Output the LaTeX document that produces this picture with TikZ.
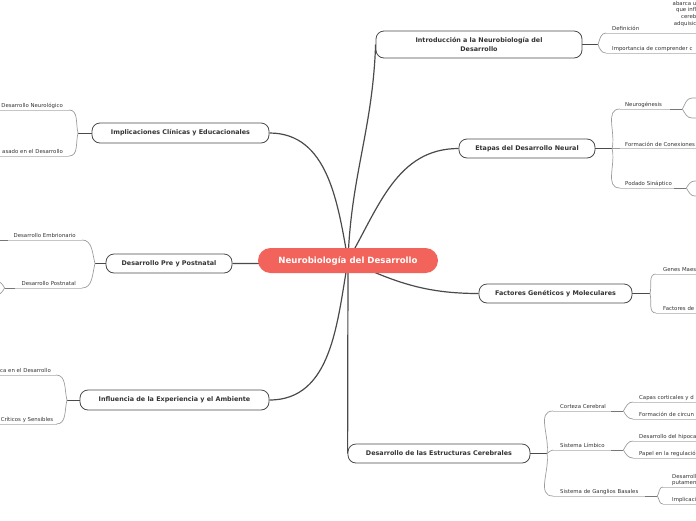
\documentclass[tikz,border=0pt]{standalone}
\usepackage{fontspec}
\setmainfont{DejaVu Sans}
\usepackage{tikz}
\usetikzlibrary{positioning,backgrounds}

\definecolor{rootred}{HTML}{F2635B}
\definecolor{inkgray}{HTML}{333333}
\definecolor{branchgray}{HTML}{4A4A4A}
\definecolor{twiggray}{HTML}{9C9C9C}
\definecolor{rulegray}{HTML}{C6C6C6}

\tikzset{
  root/.style={rounded corners=12.5pt,fill=rootred,text=white,inner sep=0pt,
    minimum width=180pt,minimum height=25pt,font=\fontsize{8.6}{10}\selectfont\bfseries},
  topic/.style={draw=branchgray,line width=.8pt,rounded corners=8pt,fill=white,text=inkgray,
    inner sep=0pt,minimum height=19pt,align=center,font=\fontsize{6.4}{9.6}\selectfont\bfseries},
  leaf/.style={text=inkgray,inner ysep=2.2pt,text depth=0pt,font=\fontsize{5.4}{6.6}\selectfont},
  leafR/.style={leaf,anchor=south west,align=left,inner xsep=6pt},
  leafL/.style={leaf,anchor=south east,align=right,inner xsep=6pt},
  branch/.style={draw=branchgray,line width=1.2pt},
  subbranch/.style={draw=branchgray,line width=.9pt},
  twig/.style={draw=twiggray,line width=.7pt},
  twigdark/.style={draw=branchgray!75,line width=.7pt},
  rule/.style={draw=rulegray,line width=.6pt}
}

\begin{document}
\begin{tikzpicture}[x=1pt,y=1pt]
  \useasboundingbox (0,0) rectangle (696,-520);

  % centre and main topics
  \node[root] (root) at (348,-260.5) {Neurobiología del Desarrollo};
  \node[topic,minimum width=206pt,minimum height=27pt] (intro) at (479,-44.5) {Introducción a la Neurobiología del\\Desarrollo};
  \node[topic,minimum width=136pt] (etapas) at (527,-148.5) {Etapas del Desarrollo Neural};
  \node[topic,minimum width=153pt] (factores) at (555.5,-293.5) {Factores Genéticos y Moleculares};
  \node[topic,minimum width=182pt] (estruct) at (439,-453.5) {Desarrollo de las Estructuras Cerebrales};
  \node[topic,minimum width=177pt,minimum height=20pt] (implic) at (180.5,-133) {Implicaciones Clínicas y Educacionales};
  \node[topic,minimum width=126pt] (prepost) at (169,-263.5) {Desarrollo Pre y Postnatal};
  \node[topic,minimum width=189pt,minimum height=20pt] (influ) at (174.5,-400) {Influencia de la Experiencia y el Ambiente};

  % junctions
  \coordinate (jintro) at (598,-44.5);
  \coordinate (jetapas) at (612,-148.5);
  \coordinate (jfact) at (650,-293.5);
  \coordinate (jestr) at (547,-453.5);
  \coordinate (jimpl) at (78,-133);
  \coordinate (jpre) at (95,-263.5);
  \coordinate (jinfl) at (67,-400);

  % right leaves
  \node[leafR,text width=100pt] (defin) at (606,-33) {Definición};
  \node[leafR,text width=100pt] (import) at (606,-53) {Importancia de comprender c};
  \node[leafR,inner xsep=5pt,text width=52pt] (neuro) at (620,-109) {Neurogénesis};
  \node[leafR,inner xsep=5pt,text width=90pt] (conex) at (620,-148.5) {Formación de Conexiones};
  \node[leafR,inner xsep=5pt,text width=56pt] (podado) at (620,-188) {Podado Sináptico};
  \node[leafR,inner xsep=7pt,text width=60pt] (genes) at (656,-274) {Genes Maes};
  \node[leafR,inner xsep=7pt,text width=60pt] (factmol) at (656,-313) {Factores de};
  \node[leafR,inner xsep=7pt,text width=56pt] (corteza) at (553,-411) {Corteza Cerebral};
  \node[leafR,text width=90pt] (capas) at (633,-402) {Capas corticales y d};
  \node[leafR,text width=90pt] (circ) at (633,-419) {Formación de circun};
  \node[leafR,inner xsep=7pt,text width=56pt] (limbico) at (553,-450) {Sistema Límbico};
  \node[leafR,text width=90pt] (hipo) at (633,-441) {Desarrollo del hipoca};
  \node[leafR,text width=90pt] (emoc) at (633,-458) {Papel en la regulació};
  \node[leafR,inner xsep=7pt,text width=90pt] (ganglios) at (553,-496) {Sistema de Ganglios Basales};
  \node[leafR,inner xsep=9pt,text width=40pt,text depth=6.6pt] (putamen) at (663,-487) {Desarroll\\putamen};
  \node[leafR,inner xsep=9pt,text width=40pt] (implgang) at (663,-504) {Implicaci};
  \node[leaf,anchor=north east,align=right,inner sep=0pt,text depth=19.8pt] (definTxt) at (696.5,-1) {abarca u\\que infl\\cereb\\adquisic};

  % left leaves
  \node[leafL,text width=100pt] (trastor) at (69,-110) {Desarrollo Neurológico};
  \node[leafL,text width=100pt] (educ) at (69,-156) {asado en el Desarrollo};
  \node[leafL,text width=100pt] (embrio) at (82,-240) {Desarrollo Embrionario};
  \node[leafL,text width=65pt] (postnat) at (82,-288) {Desarrollo Postnatal};
  \node[leafL,inner xsep=5pt,text width=100pt] (plast) at (56,-375) {ca en el Desarrollo};
  \node[leafL,inner xsep=3pt,text width=100pt] (periodos) at (56.5,-424) {Críticos y Sensibles};

  % grandchild ends at the edges
  \coordinate (neuroA) at (692,-98);
  \coordinate (neuroB) at (692,-118);
  \coordinate (podA) at (695,-181);
  \coordinate (podB) at (695,-196);
  \coordinate (postA) at (-4,-281);
  \coordinate (postB) at (-4,-295);
  \coordinate (jembrio) at (-2,-240);

  \begin{scope}[on background layer]
    \draw[branch] (root.center) to[out=88,in=-92] (intro.west);
    \draw[branch] (root.center) to[out=60,in=180] (etapas.west);
    \draw[branch] (root.center) to[out=-25,in=180] (factores.west);
    \draw[branch] (root.center) -- (estruct.west);
    \draw[branch] (root.center) to[out=100,in=0] (implic.east);
    \draw[branch] (root.center) to[out=185,in=0] (prepost.east);
    \draw[branch] (root.center) to[out=-100,in=0] (influ.east);
  \end{scope}

  % underlines
  \foreach \n in {defin,import,neuro,conex,podado,genes,factmol,corteza,capas,circ,
    limbico,hipo,emoc,ganglios,putamen,implgang,trastor,educ,embrio,postnat,plast,periodos}
    \draw[rule] (\n.south west) -- (\n.south east);

  % topic to junction
  \draw[subbranch] (intro.east) -- (jintro);
  \draw[subbranch] (etapas.east) -- (jetapas);
  \draw[subbranch] (factores.east) -- (jfact);
  \draw[subbranch] (estruct.east) -- (jestr);
  \draw[subbranch] (implic.west) -- (jimpl);
  \draw[subbranch] (prepost.west) -- (jpre);
  \draw[subbranch] (influ.west) -- (jinfl);

  % junction to leaves
  \draw[twig] (jintro) to[out=70,in=180] (defin.south west);
  \draw[twig] (jintro) to[out=-70,in=180] (import.south west);
  \draw[twig] (jetapas) to[out=75,in=180] (neuro.south west);
  \draw[twig] (jetapas) -- (conex.south west);
  \draw[twig] (jetapas) to[out=-75,in=180] (podado.south west);
  \draw[twig] (jfact) to[out=75,in=180] (genes.south west);
  \draw[twig] (jfact) to[out=-75,in=180] (factmol.south west);
  \draw[twig] (jestr) to[out=80,in=180] (corteza.south west);
  \draw[twig] (jestr) to[out=30,in=180] (limbico.south west);
  \draw[twig] (jestr) to[out=-80,in=180] (ganglios.south west);
  \draw[twig] (jimpl) to[out=105,in=0] (trastor.south east);
  \draw[twig] (jimpl) to[out=-105,in=0] (educ.south east);
  \draw[twig] (jpre) to[out=105,in=0] (embrio.south east);
  \draw[twig] (jpre) to[out=-105,in=0] (postnat.south east);
  \draw[twig] (jinfl) to[out=105,in=0] (plast.south east);
  \draw[twig] (jinfl) to[out=-105,in=0] (periodos.south east);

  % grandchildren
  \draw[twig] (corteza.south east) to[out=60,in=180] (capas.south west);
  \draw[twig] (corteza.south east) to[out=-60,in=180] (circ.south west);
  \draw[twig] (limbico.south east) to[out=60,in=180] (hipo.south west);
  \draw[twig] (limbico.south east) to[out=-60,in=180] (emoc.south west);
  \draw[twig] (ganglios.south east) to[out=60,in=180] (putamen.south west);
  \draw[twig] (ganglios.south east) to[out=-60,in=180] (implgang.south west);
  \draw[twig] (neuro.south east) to[out=60,in=180] (neuroA) -- ++(10,0);
  \draw[twig] (neuro.south east) to[out=-60,in=180] (neuroB) -- ++(10,0);
  \draw[twig] (podado.south east) to[out=60,in=180] (podA) -- ++(10,0);
  \draw[twig] (podado.south east) to[out=-60,in=180] (podB) -- ++(10,0);
  \draw[twig] (postnat.south west) to[out=120,in=0] (postA);
  \draw[twig] (postnat.south west) to[out=-120,in=0] (postB);

  % darker link starts
  \foreach \n in {neuro,podado,corteza,limbico,ganglios}
    \draw[twigdark] ([xshift=-12pt]\n.south east) -- (\n.south east);
  \draw[twigdark] (postnat.south west) -- ++(10,0);
  \draw[twigdark] (jembrio) -- ++(10,0);
\end{tikzpicture}
\end{document}
